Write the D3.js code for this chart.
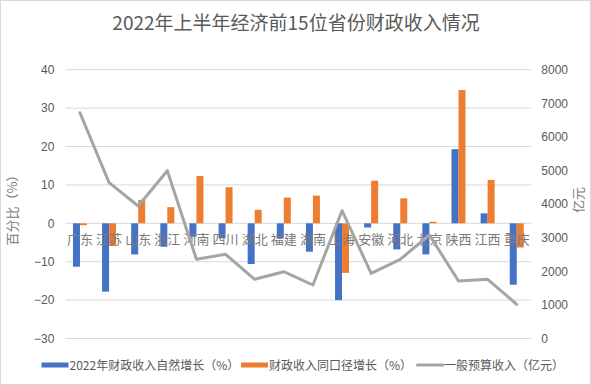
<!DOCTYPE html>
<html><head><meta charset="utf-8">
<script src="https://cdn.jsdelivr.net/npm/d3@7"></script>
<style>
html,body{margin:0;padding:0;background:#fff;}
svg{display:block;font-family:"Noto Sans CJK SC","Noto Sans",sans-serif;}
</style></head>
<body>
<script>
const categories = ["广东","江苏","山东","浙江","河南","四川","湖北","福建","湖南","上海","安徽","河北","北京","陕西","江西","重庆"];
const naturalGrowth = [-11.3,-17.8,-8.1,-6.1,-3.5,-3.9,-10.6,-3.9,-7.4,-20.0,-1.1,-6.8,-8.1,19.3,2.6,-16.0];
const sameCaliberGrowth = [-0.5,-5.9,6.1,4.2,12.3,9.4,3.5,6.7,7.2,-12.9,11.1,6.5,0.4,34.7,11.3,-6.3];
const budgetRevenue = [6720,4637,3943,4994,2357,2506,1762,1988,1592,3803,1940,2357,3080,1711,1762,1018];
const leftTicks = [-30,-20,-10,0,10,20,30,40];
const rightTicks = [0,1000,2000,3000,4000,5000,6000,7000,8000];
const title = "2022年上半年经济前15位省份财政收入情况";
const seriesNames = ["2022年财政收入自然增长（%）","财政收入同口径增长（%）","一般预算收入（亿元）"];
const colors = ["#4472C4","#ED7D31","#A5A5A5"];

const W = 591, H = 385;
const svg = d3.select("body").append("svg").attr("width", W).attr("height", H);
svg.append("rect").attr("x",0.5).attr("y",0.5).attr("width",W-1).attr("height",H-1)
  .attr("fill","#fff").attr("stroke","#d9d9d9");

const plot = {left:65.4, right:531.3, top:69.7, bottom:338.5};
const x = d3.scaleBand().domain(categories).range([plot.left, plot.right]).paddingInner(0).paddingOuter(0);
const yL = d3.scaleLinear().domain([-30,40]).range([plot.bottom, plot.top]);
const yR = d3.scaleLinear().domain([0,8000]).range([plot.bottom, plot.top]);

// gridlines
svg.append("g").selectAll("line").data(leftTicks).join("line")
  .attr("x1", plot.left).attr("x2", plot.right)
  .attr("y1", d=>yL(d)).attr("y2", d=>yL(d))
  .attr("stroke","#d9d9d9").attr("stroke-width",1);

// left axis
const axL = d3.axisLeft(yL).tickValues(leftTicks).tickFormat(d3.format("d")).tickSize(0).tickPadding(0);
const gL = svg.append("g").attr("transform",`translate(${plot.left-11},0)`).call(axL);
gL.select(".domain").remove();
gL.selectAll("text").attr("fill","#595959").style("font-size","12px").style("font-family","'Liberation Sans',Arial,sans-serif");

// right axis
const axR = d3.axisRight(yR).tickValues(rightTicks).tickFormat(d3.format("d")).tickSize(0).tickPadding(0);
const gR = svg.append("g").attr("transform",`translate(${plot.right+10},0)`).call(axR);
gR.select(".domain").remove();
gR.selectAll("text").attr("fill","#595959").style("font-size","12px").style("font-family","'Liberation Sans',Arial,sans-serif");

// bars
const bw = 7;
const cx = d => x(d) + x.bandwidth()/2;
svg.append("g").selectAll("rect").data(categories).join("rect")
  .attr("x", d=>cx(d)-bw).attr("width", bw)
  .attr("y", (d,i)=>Math.min(yL(naturalGrowth[i]), yL(0)))
  .attr("height", (d,i)=>Math.abs(yL(naturalGrowth[i])-yL(0)))
  .attr("fill", colors[0]);
svg.append("g").selectAll("rect").data(categories).join("rect")
  .attr("x", d=>cx(d)).attr("width", bw)
  .attr("y", (d,i)=>Math.min(yL(sameCaliberGrowth[i]), yL(0)))
  .attr("height", (d,i)=>Math.abs(yL(sameCaliberGrowth[i])-yL(0)))
  .attr("fill", colors[1]);

// category labels
svg.append("g").selectAll("text").data(categories).join("text")
  .attr("x", d=>cx(d)).attr("y", yL(0)+21)
  .attr("text-anchor","middle").attr("fill","#7a7a7a")
  .style("font-size","13px").text(d=>d);

// line
const line = d3.line().x((d,i)=>cx(categories[i])).y(d=>yR(d));
svg.append("path").datum(budgetRevenue).attr("d", line)
  .attr("fill","none").attr("stroke", colors[2]).attr("stroke-width",3)
  .attr("stroke-linejoin","round").attr("stroke-linecap","round");

// title
svg.append("text").attr("x", 296).attr("y", 30).attr("text-anchor","middle")
  .attr("fill","#595959").style("font-size","19px").text(title);

// axis titles
svg.append("text").attr("transform","translate(17,207) rotate(-90)")
  .attr("text-anchor","middle").attr("fill","#7a7a7a").style("font-size","13px").text("百分比（%）");
svg.append("text").attr("transform","translate(583,200) rotate(-90)")
  .attr("text-anchor","middle").attr("fill","#7a7a7a").style("font-size","13px").text("亿元");

// legend
const legend = [{x:41.5,t:seriesNames[0]},{x:241,t:seriesNames[1]},{x:416,t:seriesNames[2]}];
const ly = 365;
legend.forEach((l,i)=>{
  if(i<2){
    svg.append("rect").attr("x",l.x).attr("y",ly-2.5).attr("width",27).attr("height",5).attr("fill",colors[i]);
  } else {
    svg.append("line").attr("x1",l.x+1.5).attr("x2",l.x+27).attr("y1",ly).attr("y2",ly)
      .attr("stroke",colors[i]).attr("stroke-width",3).attr("stroke-linecap","round");
  }
  svg.append("text").attr("x", l.x+28).attr("y", ly+4.5).attr("fill","#595959")
    .style("font-size","12px").text(l.t);
});
</script>
</body></html>
